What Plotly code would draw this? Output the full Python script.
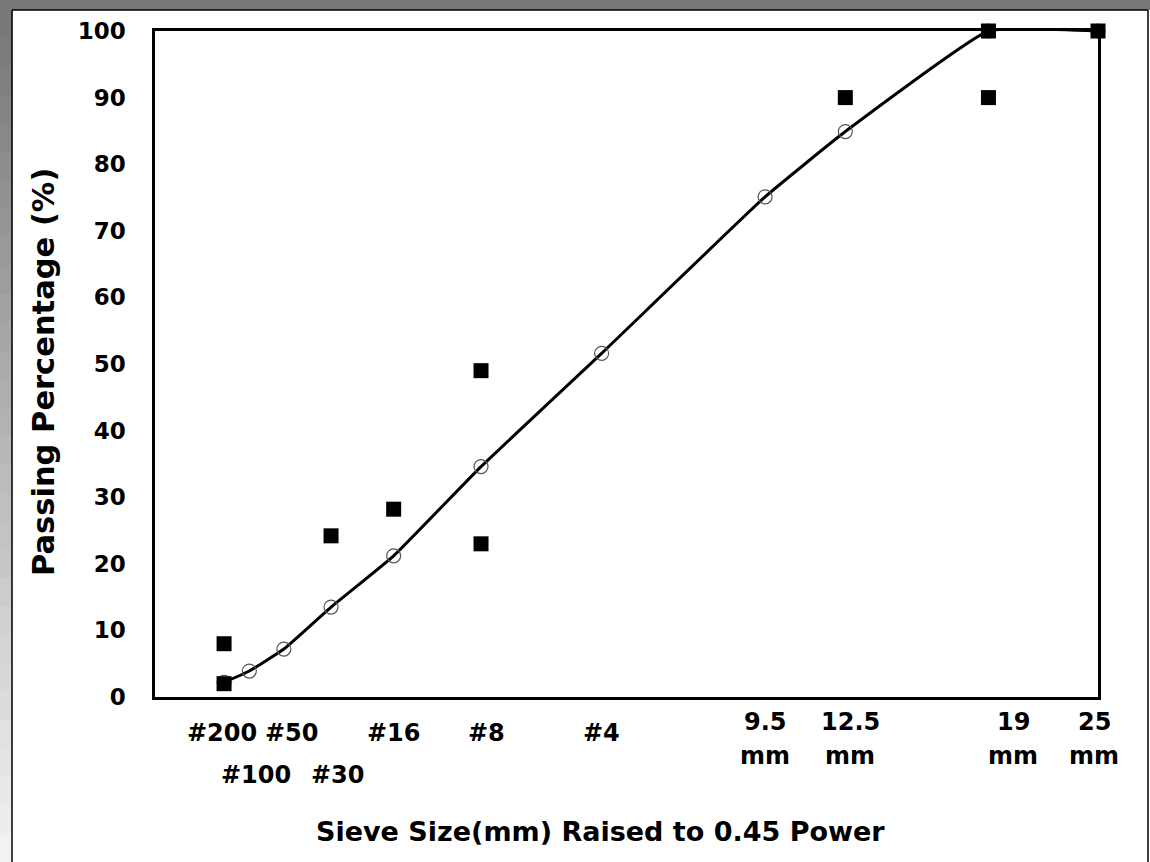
import plotly.graph_objects as go

# Sieve openings (mm) and the gradation passing each one (%)
sieve_mm = [0.075, 0.15, 0.3, 0.6, 1.18, 2.36, 4.75, 9.5, 12.5, 19, 25]
sieve_names = ["#200", "#100", "#50", "#30", "#16", "#8", "#4",
               "9.5 mm", "12.5 mm", "19 mm", "25 mm"]
passing = [2.2, 3.9, 7.2, 13.5, 21.2, 34.6, 51.6, 75.1, 84.9, 100, 100]

# Control points (mm, % passing)
ctrl_mm = [0.075, 0.075, 0.6, 1.18, 2.36, 2.36, 12.5, 19, 19, 25]
ctrl_pass = [2, 8, 24.2, 28.2, 23, 49, 90, 90, 100, 100]

y_ticks = list(range(0, 101, 10))

POWER = 0.45
FONT = "DejaVu Sans"

W, H = 1150, 862
L, R, T, B = 155, 52, 31, 165
PW, PH = W - L - R, H - T - B


def paper(px, py):
    """Pixel position on the page -> paper coordinates of the plot area."""
    return (px - L) / PW, (H - B - py) / PH


xs = [s ** POWER for s in sieve_mm]
cx = [s ** POWER for s in ctrl_mm]

fig = go.Figure()

fig.add_trace(go.Scatter(
    x=xs, y=passing, mode="lines+markers",
    line=dict(color="black", width=3, shape="spline", smoothing=0.35),
    marker=dict(symbol="circle-open", size=14, color="#555555",
                line=dict(width=1.2, color="#555555")),
    cliponaxis=False, showlegend=False, hoverinfo="skip",
))

fig.add_trace(go.Scatter(
    x=cx, y=ctrl_pass, mode="markers",
    marker=dict(symbol="square", size=15, color="black"),
    cliponaxis=False, showlegend=False, hoverinfo="skip",
))

# Sieve labels below the x axis
label_dx = {"#200": -2, "#100": 7, "#50": 8, "#30": 7, "#16": 0, "#8": 5,
            "#4": 0, "9.5 mm": 0, "12.5 mm": 5, "19 mm": 25, "25 mm": -4}
lower_row = {"#100", "#30"}
annotations = []
for x, name in zip(xs, sieve_names):
    parts = name.split(" ")
    if len(parts) == 2:
        rows = [(parts[0], 722), (parts[1], 756)]
    elif name in lower_row:
        rows = [(name, 775)]
    else:
        rows = [(name, 733)]
    for text, py in rows:
        annotations.append(dict(
            x=x, xref="x", y=paper(0, py)[1], yref="paper",
            text=text, showarrow=False, xanchor="center", yanchor="middle",
            xshift=label_dx[name],
            font=dict(family=FONT, size=24, color="black", weight="bold"),
        ))

tx, ty = paper(600, 831)
annotations.append(dict(
    x=tx, y=ty, xref="paper", yref="paper", showarrow=False,
    text="Sieve Size(mm) Raised to 0.45 Power",
    xanchor="center", yanchor="middle",
    font=dict(family=FONT, size=27, color="black", weight="bold"),
))
yx, yy = paper(44, 372)
annotations.append(dict(
    x=yx, y=yy, xref="paper", yref="paper", showarrow=False,
    text="Passing Percentage (%)", textangle=-90,
    xanchor="center", yanchor="middle",
    font=dict(family=FONT, size=30.5, color="black", weight="bold"),
))

# Page frame: grey band on top, fading grey strip on the left, thin black border
shapes = []
x0, y0 = paper(0, 0)
x1, y1 = paper(W, 10)
shapes.append(dict(type="rect", xref="paper", yref="paper", x0=x0, x1=x1,
                   y0=y1, y1=y0, fillcolor="#787878", line=dict(width=0),
                   layer="above"))
n_bands = 30
for i in range(n_bands):
    t = i / (n_bands - 1)
    g = int(0x78 + (0xf2 - 0x78) * t)
    top = 10 + (H - 10) * i / n_bands
    bot = top + (H - 10) / n_bands + 2
    a0, b0 = paper(0, top)
    a1, b1 = paper(12, bot)
    shapes.append(dict(type="rect", xref="paper", yref="paper",
                       x0=a0, x1=a1, y0=b1, y1=b0,
                       fillcolor=f"rgb({g},{g},{g})",
                       line=dict(width=0.8, color=f"rgb({g},{g},{g})"),
                       layer="above"))
for (pa, pb) in [((12, 10), (12, H)), ((12, 10), (1148, 10)),
                 ((1148, 10), (1148, H))]:
    a, b = paper(*pa)
    c, d = paper(*pb)
    shapes.append(dict(type="line", xref="paper", yref="paper",
                       x0=a, y0=b, x1=c, y1=d,
                       line=dict(color="black", width=1.5), layer="above"))

fig.update_layout(
    width=W, height=H, autosize=False,
    margin=dict(l=L, r=R, t=T, b=B),
    paper_bgcolor="white", plot_bgcolor="white",
    showlegend=False,
    annotations=annotations,
    shapes=shapes,
    xaxis=dict(range=[0, 25 ** POWER], showgrid=False, zeroline=False,
               showticklabels=False, ticks="", showline=True,
               linecolor="black", linewidth=2.5, mirror=True),
    yaxis=dict(range=[0, 100], tickvals=y_ticks, showgrid=False,
               zeroline=False, ticks="", showline=True, linecolor="black",
               linewidth=2.5, mirror=True, ticklabelstandoff=22,
               tickfont=dict(family=FONT, size=23, color="black",
                             weight="bold")),
)

fig.write_html("out.html")
